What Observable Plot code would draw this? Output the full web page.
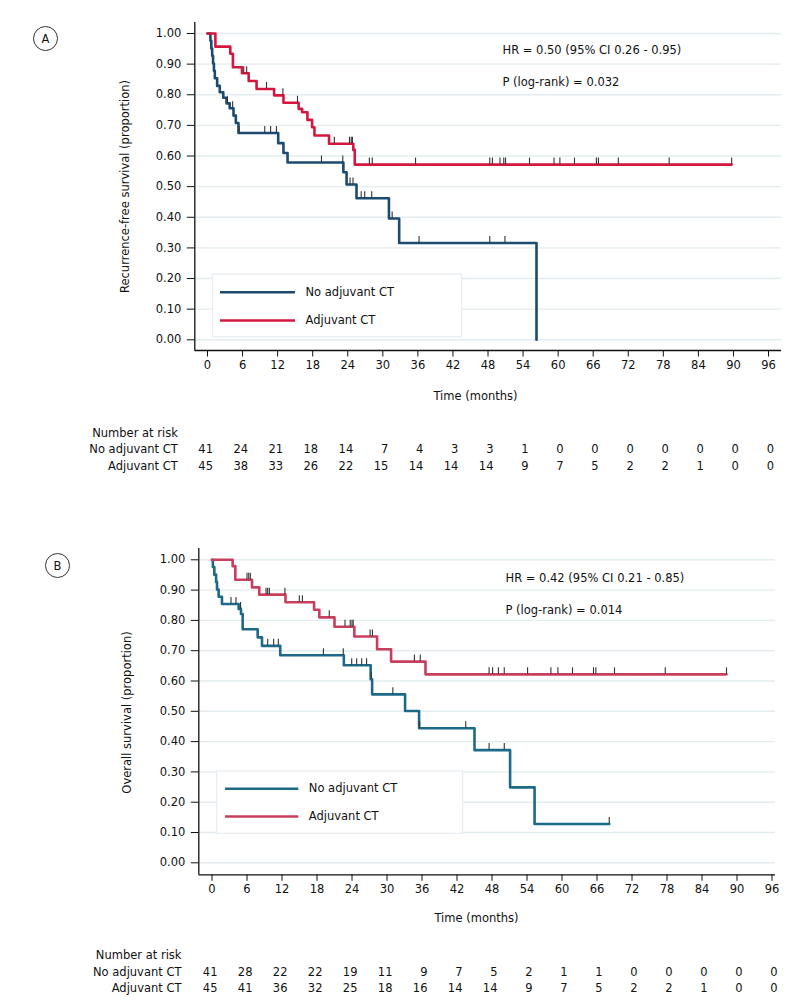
<!DOCTYPE html>
<html>
<head>
<meta charset="utf-8">
<script src="https://cdn.jsdelivr.net/npm/d3@7"></script>
<script src="https://cdn.jsdelivr.net/npm/@observablehq/plot@0.6"></script>
<style>
  html, body { margin: 0; padding: 0; background: #fff; }
  #chart svg { display: block; }
</style>
</head>
<body>
<div id="chart"></div>
<script>
// ---------- shared ticks ----------
const xTicks = [0, 6, 12, 18, 24, 30, 36, 42, 48, 54, 60, 66, 72, 78, 84, 90, 96];
const yTicks = [0, 0.1, 0.2, 0.3, 0.4, 0.5, 0.6, 0.7, 0.8, 0.9, 1.0];
const riskTimes = [0, 6, 12, 18, 24, 30, 36, 42, 48, 54, 60, 66, 72, 78, 84, 90, 96];
const seriesNames = ["No adjuvant CT", "Adjuvant CT"];

// ---------- Panel A: recurrence-free survival ----------
const rfsNoTimes = [0.5, 0.65, 0.8, 0.95, 1.1, 1.25, 1.65, 2.1, 2.7, 3.25, 3.8, 4.45, 4.85, 5.3, 12.1, 13.0, 13.7, 23.25, 23.8, 25.5, 31.05, 32.8, 56.3];
const rfsNoSurv  = [0.976, 0.951, 0.927, 0.902, 0.878, 0.854, 0.829, 0.808, 0.790, 0.772, 0.756, 0.732, 0.708, 0.675, 0.642, 0.610, 0.579, 0.547, 0.507, 0.462, 0.396, 0.316, 0.0];
const rfsNoEnd   = 56.3;
const rfsNoCens  = [3.4, 4.3, 5.4, 9.8, 10.8, 11.8, 19.5, 23.15, 24.4, 24.9, 26.3, 26.9, 28.1, 31.6, 36.2, 48.3, 50.9];

const rfsAdjTimes = [1.35, 3.9, 4.35, 5.9, 7.05, 8.4, 11.4, 13.0, 15.6, 16.2, 17.1, 17.9, 18.3, 20.8, 24.95, 25.2];
const rfsAdjSurv  = [0.957, 0.934, 0.890, 0.870, 0.845, 0.819, 0.798, 0.774, 0.754, 0.743, 0.718, 0.694, 0.667, 0.640, 0.620, 0.572];
const rfsAdjEnd   = 89.7;
const rfsAdjCens  = [6.2, 6.7, 10.1, 12.9, 15.4, 21.7, 24.3, 24.6, 24.8, 27.7, 28.2, 35.6, 48.3, 48.75, 50.05, 50.7, 51.0, 55.1, 59.3, 60.3, 62.8, 66.55, 66.9, 70.3, 79.0, 89.7];

const riskRfsNo  = [41, 24, 21, 18, 14, 7, 4, 3, 3, 1, 0, 0, 0, 0, 0, 0, 0];
const riskRfsAdj = [45, 38, 33, 26, 22, 15, 14, 14, 14, 9, 7, 5, 2, 2, 1, 0, 0];

// ---------- Panel B: overall survival ----------
const osNoTimes = [0.15, 0.4, 0.7, 0.86, 1.14, 1.71, 4.57, 4.97, 5.26, 7.83, 8.57, 11.7, 22.6, 27.2, 27.45, 33.1, 35.5, 45.0, 51.1, 55.3];
const osNoSurv  = [0.976, 0.951, 0.927, 0.902, 0.878, 0.854, 0.838, 0.821, 0.771, 0.744, 0.716, 0.685, 0.652, 0.606, 0.556, 0.501, 0.444, 0.372, 0.249, 0.128];
const osNoEnd   = 68.1;
const osNoCens  = [3.26, 4.11, 4.9, 9.54, 10.57, 11.37, 19.1, 22.5, 23.95, 24.8, 25.66, 26.5, 27.3, 31.0, 35.6, 43.5, 47.5, 50.1, 68.1];

const osAdjTimes = [3.54, 4.0, 6.86, 8.1, 12.6, 17.5, 18.4, 21.0, 24.4, 28.3, 30.7, 36.6];
const osAdjSurv  = [0.979, 0.934, 0.909, 0.885, 0.860, 0.835, 0.810, 0.779, 0.747, 0.705, 0.664, 0.622];
const osAdjEnd   = 88.2;
const osAdjCens  = [6.0, 6.3, 6.57, 9.26, 9.54, 9.83, 12.5, 14.97, 15.5, 20.1, 22.8, 23.7, 24.0, 24.2, 27.1, 27.5, 34.7, 35.7, 47.5, 48.1, 49.1, 50.1, 54.1, 58.1, 59.3, 61.8, 65.4, 65.8, 69.0, 77.7, 88.2];

const riskOsNo  = [41, 28, 22, 22, 19, 11, 9, 7, 5, 2, 1, 1, 0, 0, 0, 0, 0];
const riskOsAdj = [45, 41, 36, 32, 25, 18, 16, 14, 14, 9, 7, 5, 2, 2, 1, 0, 0];

// ---------- helpers ----------
function stepPoints(times, surv, end) {
  const pts = [{t: 0, v: 1}];
  times.forEach((t, i) => pts.push({t, v: surv[i]}));
  pts.push({t: end, v: surv[surv.length - 1]});
  return pts;
}
function censorPoints(times, surv, cens) {
  return cens.map(c => {
    let v = 1;
    times.forEach((t, i) => { if (t <= c) v = surv[i]; });
    return {t: c, v};
  });
}

const FONT = "DejaVu Sans";
const FS = 11.5;

function panel(cfg) {
  const sx = d3.scaleLinear([0, 96], [cfg.x0, cfg.x96]);
  const sy = d3.scaleLinear([0, 1], [cfg.y0, cfg.y1]);
  const X = px => sx.invert(px), Y = py => sy.invert(py);
  const T = (px, py, text, opts = {}) =>
    Plot.text([text], {x: () => X(px), y: () => Y(py), text: d => d,
      textAnchor: "start", lineAnchor: "middle", fontSize: FS, fill: "#111", ...opts});

  const noPts = stepPoints(cfg.noTimes, cfg.noSurv, cfg.noEnd);
  const adjPts = stepPoints(cfg.adjTimes, cfg.adjSurv, cfg.adjEnd);
  const noC = censorPoints(cfg.noTimes, cfg.noSurv, cfg.noCens);
  const adjC = censorPoints(cfg.adjTimes, cfg.adjSurv, cfg.adjCens);
  const tickH = 6.5 / Math.abs(cfg.y0 - cfg.y1);
  const riskNo = riskTimes.map((t, i) => ({t, n: cfg.riskNo[i]}));
  const riskAdj = riskTimes.map((t, i) => ({t, n: cfg.riskAdj[i]}));
  const L = cfg.legend;

  return Plot.plot({
    width: 793,
    height: cfg.height,
    marginLeft: cfg.axisLeft,
    marginRight: 793 - cfg.right,
    marginTop: cfg.top,
    marginBottom: cfg.height - cfg.axisBottom,
    style: {fontFamily: FONT, fontSize: FS + "px", color: "#111", background: "#fff"},
    x: {domain: [0, 96], range: [cfg.x0, cfg.x96], label: null},
    y: {domain: [0, 1], range: [cfg.y0, cfg.y1], label: null},
    marks: [
      // gridlines
      Plot.ruleY(yTicks, {stroke: "#e3ecef", strokeWidth: 1.4}),
      // legend box
      Plot.rect([0], {x1: () => X(L.x1), x2: () => X(L.x2), y1: () => Y(L.y1), y2: () => Y(L.y2),
        fill: "#fff", stroke: "#e6edf0", strokeWidth: 1.2}),
      Plot.ruleY([0], {x1: () => X(L.lx1), x2: () => X(L.lx2), y: () => Y(L.ly1), stroke: cfg.noColor, strokeWidth: 2.6}),
      Plot.ruleY([0], {x1: () => X(L.lx1), x2: () => X(L.lx2), y: () => Y(L.ly2), stroke: cfg.adjColor, strokeWidth: 2.6}),
      T(L.tx, L.ly1, seriesNames[0]),
      T(L.tx, L.ly2, seriesNames[1]),
      // survival curves
      Plot.line(noPts, {x: "t", y: "v", curve: "step-after", stroke: cfg.noColor, strokeWidth: 2.6}),
      Plot.line(adjPts, {x: "t", y: "v", curve: "step-after", stroke: cfg.adjColor, strokeWidth: 2.6}),
      // censoring ticks
      Plot.ruleX(noC, {x: "t", y1: "v", y2: d => d.v + tickH, stroke: "#333", strokeWidth: 1.1}),
      Plot.ruleX(adjC, {x: "t", y1: "v", y2: d => d.v + tickH, stroke: "#333", strokeWidth: 1.1}),
      // axis lines
      Plot.ruleX([X(cfg.axisLeft)], {stroke: "#111", strokeWidth: 1.3}),
      Plot.ruleY([Y(cfg.axisBottom)], {stroke: "#111", strokeWidth: 1.3}),
      Plot.axisX(xTicks, {anchor: "bottom", tickSize: 6.5, tickPadding: 4, fontSize: FS, label: null}),
      Plot.axisY(yTicks, {anchor: "left", tickSize: 7.5, tickPadding: 6, fontSize: FS, tickFormat: d3.format(".2f"), label: null}),
      // titles and annotations
      T(cfg.ytitle[0], cfg.ytitle[1], cfg.ytitleText, {textAnchor: "middle", rotate: -90}),
      T(cfg.xtitle[0], cfg.xtitle[1], "Time (months)", {textAnchor: "middle"}),
      T(cfg.hr[0], cfg.hr[1], cfg.hrText),
      T(cfg.p[0], cfg.p[1], cfg.pText),
      Plot.dot([0], {x: () => X(cfg.badge[0]), y: () => Y(cfg.badge[1]), r: 12, stroke: "#333", fill: "none", strokeWidth: 1}),
      T(cfg.badge[0], cfg.badge[1] + 0.5, cfg.badgeText, {textAnchor: "middle"}),
      // number at risk table
      T(cfg.riskRight, cfg.riskRows[0], "Number at risk", {textAnchor: "end"}),
      T(cfg.riskRight, cfg.riskRows[1], seriesNames[0], {textAnchor: "end"}),
      T(cfg.riskRight, cfg.riskRows[2], seriesNames[1], {textAnchor: "end"}),
      Plot.text(riskNo, {x: "t", y: () => Y(cfg.riskRows[1]), text: d => String(d.n), textAnchor: "end", dx: 5.5, fontSize: FS, fill: "#111"}),
      Plot.text(riskAdj, {x: "t", y: () => Y(cfg.riskRows[2]), text: d => String(d.n), textAnchor: "end", dx: 5.5, fontSize: FS, fill: "#111"})
    ]
  });
}

const chartA = panel({
  height: 490,
  x0: 207, x96: 768, y0: 339.3, y1: 33,
  axisLeft: 194.3, axisBottom: 350, top: 22, right: 781,
  noTimes: rfsNoTimes, noSurv: rfsNoSurv, noEnd: rfsNoEnd, noCens: rfsNoCens,
  adjTimes: rfsAdjTimes, adjSurv: rfsAdjSurv, adjEnd: rfsAdjEnd, adjCens: rfsAdjCens,
  riskNo: riskRfsNo, riskAdj: riskRfsAdj,
  noColor: "#1d4b70", adjColor: "#d3173f",
  legend: {x1: 212.3, x2: 461.7, y1: 274, y2: 336.7, lx1: 220, lx2: 295, ly1: 291.7, ly2: 320, tx: 305},
  ytitle: [125, 186], ytitleText: "Recurrence-free survival (proportion)",
  xtitle: [475, 396],
  hr: [502, 50], hrText: "HR = 0.50 (95% CI 0.26 - 0.95)",
  p: [502, 82], pText: "P (log-rank) = 0.032",
  badge: [45, 38], badgeText: "A",
  riskRight: 177.3, riskRows: [433.3, 449.3, 465.7]
});

const chartB = panel({
  height: 513,
  x0: 211.5, x96: 771.5, y0: 372.3, y1: 69.3,
  axisLeft: 198.3, axisBottom: 384.3, top: 58, right: 775,
  noTimes: osNoTimes, noSurv: osNoSurv, noEnd: osNoEnd, noCens: osNoCens,
  adjTimes: osAdjTimes, adjSurv: osAdjSurv, adjEnd: osAdjEnd, adjCens: osAdjCens,
  riskNo: riskOsNo, riskAdj: riskOsAdj,
  noColor: "#1d6a88", adjColor: "#c83e5e",
  legend: {x1: 216.7, x2: 462.7, y1: 281, y2: 343.3, lx1: 225, lx2: 298.3, ly1: 298.3, ly2: 326, tx: 308.3},
  ytitle: [127, 222], ytitleText: "Overall survival (proportion)",
  xtitle: [476, 428],
  hr: [505, 88], hrText: "HR = 0.42 (95% CI 0.21 - 0.85)",
  p: [505, 120], pText: "P (log-rank) = 0.014",
  badge: [57, 75], badgeText: "B",
  riskRight: 181, riskRows: [465, 481.7, 498.3]
});

document.getElementById("chart").append(chartA, chartB);
</script>
</body>
</html>
